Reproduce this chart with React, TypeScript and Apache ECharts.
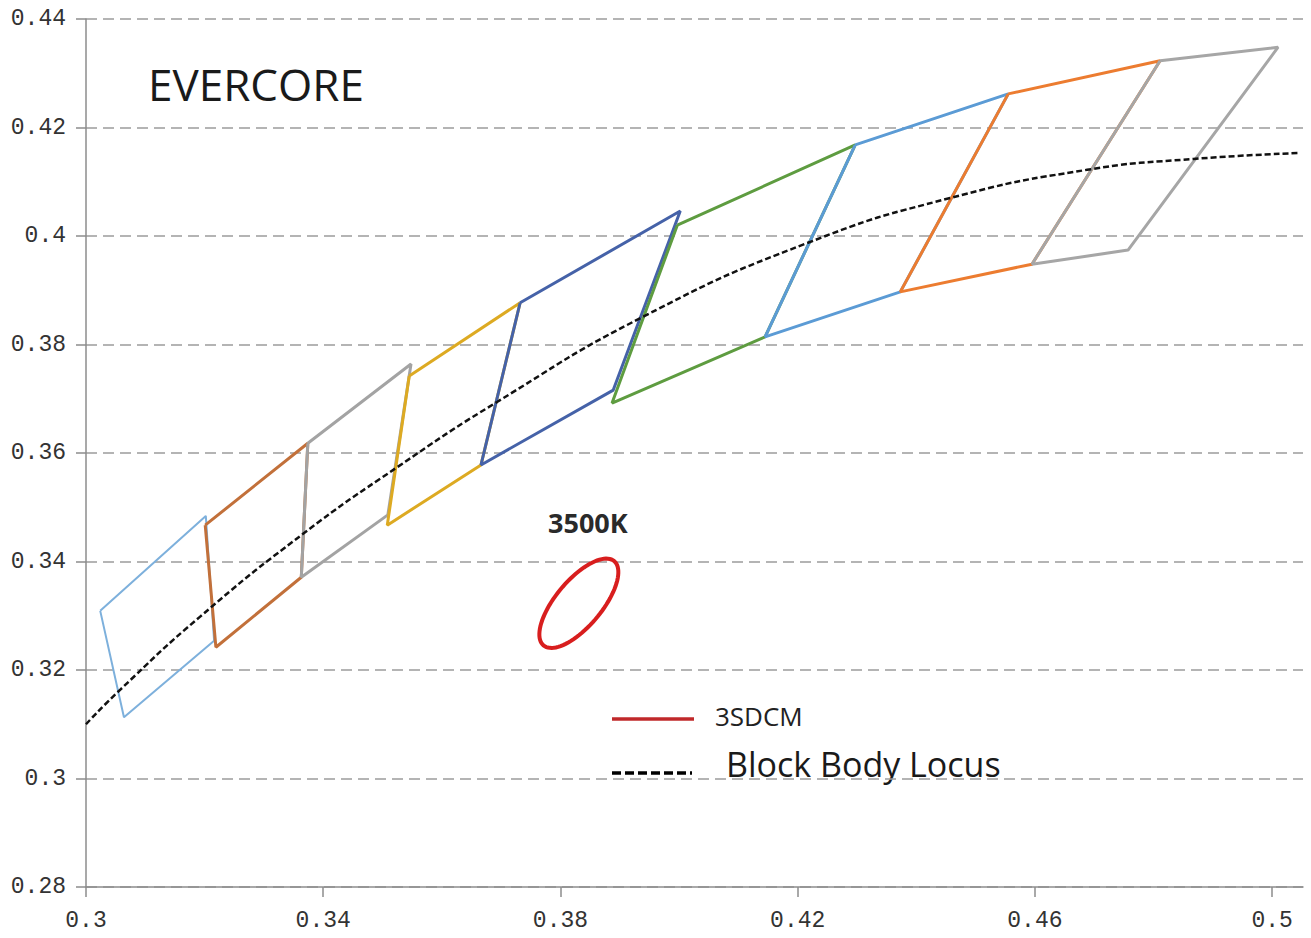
import React, { useEffect, useRef } from "react";
import * as echarts from "echarts";

// Axis ticks
const xTicks = [0.3, 0.34, 0.38, 0.42, 0.46, 0.5];
const xMin = 0.3;
const xMax = 0.5052;
const yMin = 0.28;
const yMax = 0.44;
const yStep = 0.02;

// ANSI-style chromaticity quadrangles (TL, TR, BR, BL)
const quadA = [[0.3024, 0.3309], [0.3202, 0.3484], [0.3216, 0.3254], [0.3064, 0.3113]];
const quadB = [[0.3201, 0.3467], [0.3374, 0.3618], [0.3363, 0.3371], [0.3219, 0.3242]];
const quadC = [[0.3374, 0.3618], [0.3548, 0.3764], [0.3509, 0.3486], [0.3363, 0.3371]];
const quadD = [[0.3545, 0.3742], [0.3732, 0.3877], [0.3666, 0.3578], [0.3508, 0.3467]];
const quadE = [[0.3732, 0.3877], [0.4002, 0.4046], [0.3889, 0.3716], [0.3666, 0.3578]];
const quadF = [[0.3997, 0.4020], [0.4297, 0.4168], [0.4145, 0.3814], [0.3887, 0.3692]];
const quadG = [[0.4297, 0.4168], [0.4555, 0.4262], [0.4373, 0.3897], [0.4145, 0.3814]];
const quadH = [[0.4555, 0.4262], [0.4811, 0.4323], [0.4595, 0.3948], [0.4373, 0.3897]];
const quadI = [[0.4811, 0.4323], [0.5010, 0.4348], [0.4757, 0.3974], [0.4595, 0.3948]];

const quads = [quadA, quadB, quadC, quadD, quadE, quadF, quadG, quadH, quadI];
const quadColors = ["#7DB0DC", "#C2703A", "#A3A3A3", "#DDAA22", "#4562A8", "#5E9C40", "#5B9BD5", "#EC7C30", "#A6A6A6"];
const quadWidths = [2, 3, 3, 3, 3, 3, 3, 3, 3];

// Black body locus
const locusX = [0.3, 0.3057, 0.3192, 0.3366, 0.3525, 0.3693, 0.3939, 0.4216, 0.4457, 0.4688, 0.4867, 0.5047];
const locusY = [0.3100, 0.3163, 0.3298, 0.3451, 0.3574, 0.3694, 0.3851, 0.3987, 0.4070, 0.4122, 0.4142, 0.4153];

// 3SDCM ellipse at 3500K: centre, major and minor semi-axis vectors (data units)
const ellipseCenter = [0.3831, 0.3323];
const ellipseMajor = [0.00596, 0.00777];
const ellipseMinor = [0.00297, -0.00272];

export default function App() {
  const ref = useRef<HTMLDivElement>(null);

  useEffect(() => {
    if (!ref.current) return;
    const chart = echarts.init(ref.current, null, { renderer: "svg" });

    const quadSeries = quads.map((q, i) => ({
      type: "line",
      name: "Q" + (i + 1),
      data: [...q, q[0]],
      showSymbol: false,
      symbol: "none",
      lineStyle: { color: quadColors[i], width: quadWidths[i] },
      z: 2 + i,
      silent: true,
    }));

    const option: any = {
      animation: false,
      backgroundColor: "#ffffff",
      grid: { left: 86, right: 8, top: 19, bottom: 51 },
      xAxis: {
        type: "value",
        min: xMin,
        max: xMax,
        axisLine: { show: true, lineStyle: { color: "#8c8c8c", width: 1.5 } },
        axisTick: { show: true, length: 10, customValues: xTicks, lineStyle: { color: "#8c8c8c", width: 1.5 } },
        axisLabel: {
          customValues: xTicks,
          margin: 22,
          fontFamily: "Liberation Mono",
          fontSize: 23,
          color: "#333",
        },
        splitLine: { show: false },
      },
      yAxis: {
        type: "value",
        min: yMin,
        max: yMax,
        interval: yStep,
        axisLine: { show: true, lineStyle: { color: "#8c8c8c", width: 1.5 } },
        axisTick: { show: true, length: 10, lineStyle: { color: "#8c8c8c", width: 1.5 } },
        axisLabel: {
          margin: 20,
          fontFamily: "Liberation Mono",
          fontSize: 23,
          color: "#333",
        },
        splitLine: { show: true, lineStyle: { color: "#9c9c9c", width: 1.5, type: [11, 6] } },
      },
      series: [
        ...quadSeries,
        {
          type: "line",
          name: "Block Body Locus",
          data: locusX.map((x, i) => [x, locusY[i]]),
          smooth: true,
          showSymbol: false,
          symbol: "none",
          lineStyle: { color: "#111", width: 2.5, type: [6, 3] },
          z: 20,
          silent: true,
        },
        {
          type: "custom",
          name: "3SDCM",
          data: [ellipseCenter],
          z: 21,
          silent: true,
          renderItem: (params: any, api: any) => {
            const pts: number[][] = [];
            const n = 90;
            for (let k = 0; k <= n; k++) {
              const t = (k / n) * Math.PI * 2;
              const c = Math.cos(t);
              const s = Math.sin(t);
              pts.push(
                api.coord([
                  ellipseCenter[0] + c * ellipseMajor[0] + s * ellipseMinor[0],
                  ellipseCenter[1] + c * ellipseMajor[1] + s * ellipseMinor[1],
                ])
              );
            }
            return {
              type: "polygon",
              shape: { points: pts },
              style: { fill: "none", stroke: "#D81E1E", lineWidth: 4 },
            };
          },
        },
      ],
      graphic: [
        {
          type: "text",
          left: 148,
          top: 62,
          style: { text: "EVERCORE", font: '44px "Open Sans"', fill: "#1a1a1a" },
        },
        {
          type: "text",
          left: 548,
          top: 509,
          style: { text: "3500K", font: 'bold 27px "Open Sans"', fill: "#2a2a2a" },
        },
        {
          type: "line",
          shape: { x1: 612, y1: 719, x2: 694, y2: 719 },
          style: { stroke: "#C0282A", lineWidth: 3.5 },
        },
        {
          type: "text",
          left: 715,
          top: 703,
          style: { text: "3SDCM", font: '26px "Open Sans"', fill: "#222" },
        },
        {
          type: "line",
          shape: { x1: 612, y1: 773, x2: 692, y2: 773 },
          style: { stroke: "#000", lineWidth: 3.5, lineDash: [9, 4] },
        },
        {
          type: "text",
          left: 726,
          top: 747,
          style: { text: "Block Body Locus", font: '34px "Open Sans"', fill: "#1a1a1a" },
        },
      ],
    };

    chart.setOption(option);
    return () => chart.dispose();
  }, []);

  return (
    <div
      ref={ref}
      style={{ position: "absolute", left: 0, top: 0, width: 1311, height: 938, background: "#fff" }}
    />
  );
}
